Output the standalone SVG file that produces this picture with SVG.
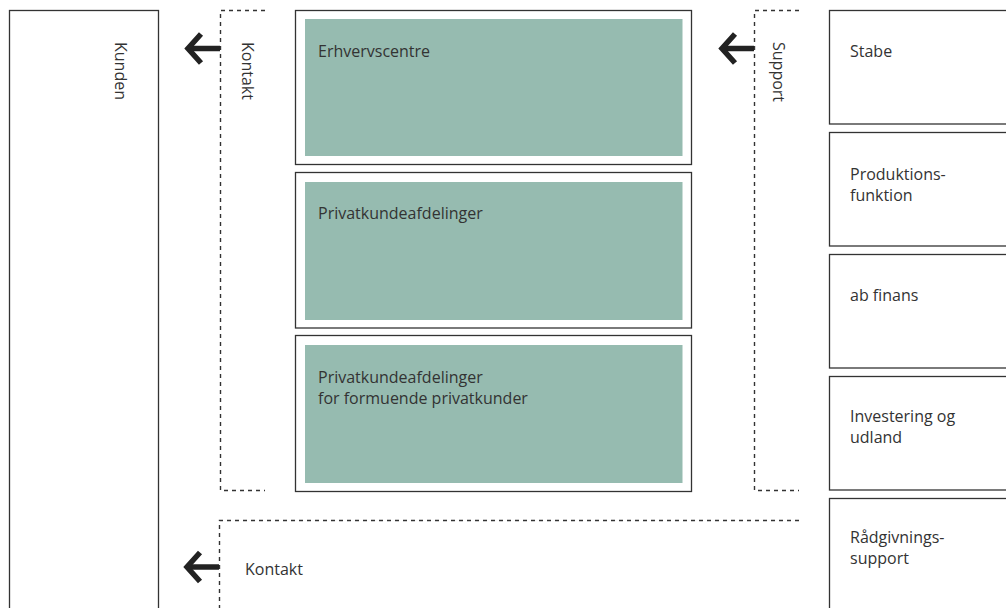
<svg xmlns="http://www.w3.org/2000/svg" width="1006" height="608" viewBox="0 0 1006 608">
<style>
.t{font-family:"Open Sans","Noto Sans","Liberation Sans",sans-serif;font-size:16px;fill:#333}
.box{fill:#fff;stroke:#333;stroke-width:1.3}
.green{fill:#96bbb0}
.dash{fill:none;stroke:#333;stroke-width:1.4;stroke-dasharray:4 4}
.arr{fill:none;stroke:#222;stroke-width:5.5;stroke-linejoin:miter;stroke-miterlimit:10}
</style>
<defs>
<g id="arrow">
<path class="arr" d="M0,0 H-32"/>
<path class="arr" d="M-19,-14.5 L-32,0 L-19,14.5"/>
</g>
</defs>
<rect width="1006" height="608" fill="#fff"/>
<g id="kunden">
<rect class="box" x="9.5" y="10.5" width="149" height="610"/>
<text class="t" transform="translate(115,42) rotate(90)">Kunden</text>
</g>
<g id="kontakt-side">
<text class="t" transform="translate(242,42) rotate(90)">Kontakt</text>
</g>
<g id="support-side">
<text class="t" transform="translate(773,42) rotate(90)">Support</text>
</g>
<g id="erhvervscentre">
<rect class="box" x="295.5" y="10.5" width="396" height="154"/>
<rect class="green" x="305" y="19" width="377.5" height="137"/>
<text class="t" x="318" y="56.5">Erhvervscentre</text>
</g>
<g id="privatkunde">
<rect class="box" x="295.5" y="172.5" width="396" height="155.5"/>
<rect class="green" x="305" y="182" width="377.5" height="138"/>
<text class="t" x="318" y="219">Privatkundeafdelinger</text>
</g>
<g id="formuende">
<rect class="box" x="295.5" y="335.5" width="396" height="156"/>
<rect class="green" x="305" y="345" width="377.5" height="138"/>
<text class="t" x="318" y="383">Privatkundeafdelinger</text>
<text class="t" x="318" y="404">for formuende privatkunder</text>
</g>
<g id="stabe">
<rect class="box" x="829.5" y="10.5" width="190" height="113.5"/>
<text class="t" x="850" y="56.5">Stabe</text>
</g>
<g id="produktion">
<rect class="box" x="829.5" y="132.5" width="190" height="113.5"/>
<text class="t" x="850" y="179.5">Produktions-</text>
<text class="t" x="850" y="200.5">funktion</text>
</g>
<g id="abfinans">
<rect class="box" x="829.5" y="254.5" width="190" height="113.5"/>
<text class="t" x="850" y="300.5">ab finans</text>
</g>
<g id="investering">
<rect class="box" x="829.5" y="376.5" width="190" height="113.5"/>
<text class="t" x="850" y="421.5">Investering og</text>
<text class="t" x="850" y="442.5">udland</text>
</g>
<g id="raadgivning">
<rect class="box" x="829.5" y="498.5" width="190" height="130"/>
<text class="t" x="850" y="542.5">Rådgivnings-</text>
<text class="t" x="850" y="563.5">support</text>
</g>
<g id="kontakt-bottom">
<text class="t" x="245" y="575">Kontakt</text>
</g>
<g id="connectors">
<path class="dash" d="M265,10.5 H220.5 V490.5 H265"/>
<path class="dash" d="M799,10.5 H754.5 V490.5 H799"/>
<path class="dash" d="M799,520.5 H219.5 V612"/>
<use href="#arrow" transform="translate(220,48.5)"/>
<use href="#arrow" transform="translate(754,48.5)"/>
<use href="#arrow" transform="translate(219,567)"/>
</g>
</svg>
